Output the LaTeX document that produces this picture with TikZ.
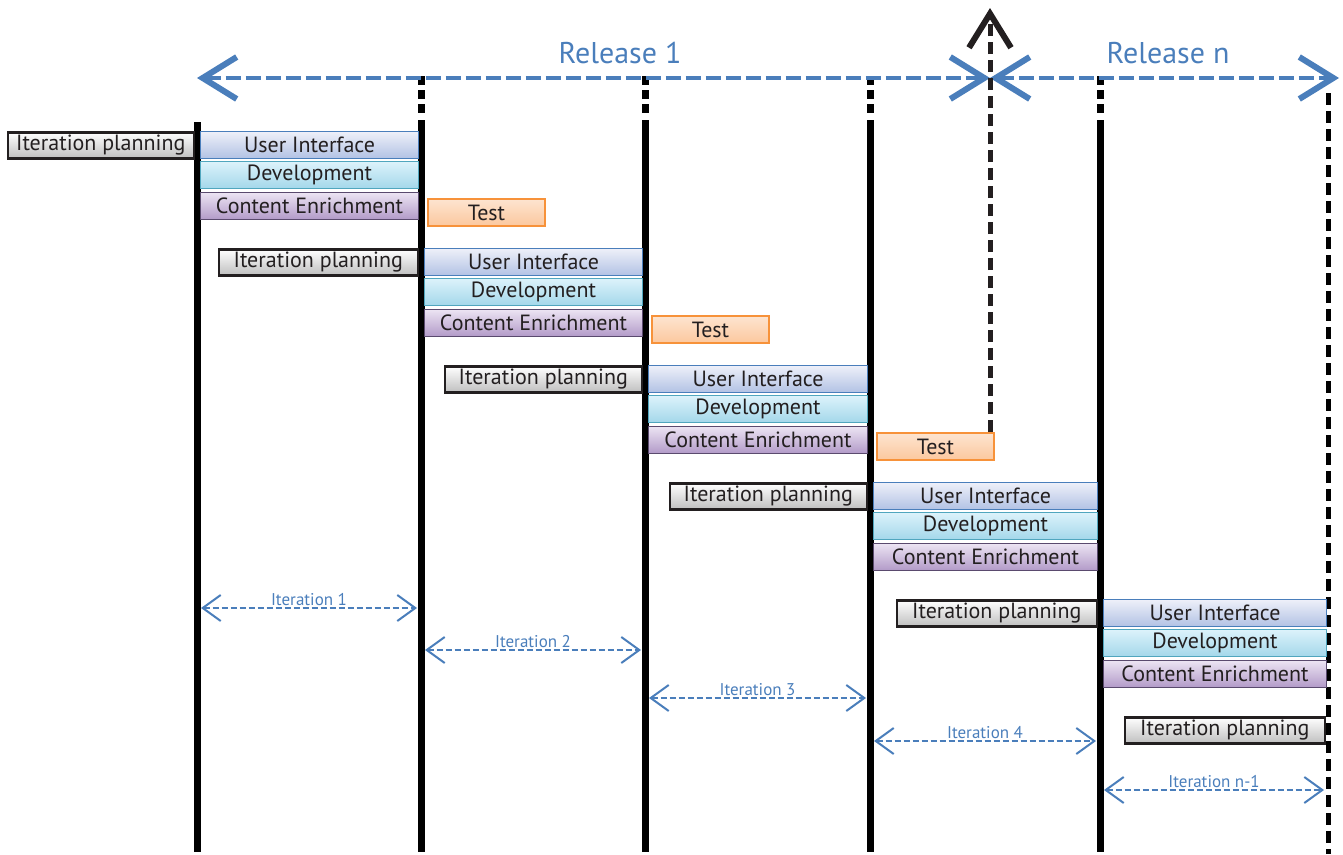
\documentclass[tikz,border=0pt]{standalone}
\usepackage{fontspec}
\setmainfont{PT Sans}
\usetikzlibrary{arrows.meta, positioning}

\definecolor{relblue}{RGB}{74,126,187}
\definecolor{inkblack}{RGB}{35,31,32}
\definecolor{testorange}{RGB}{247,146,58}

\tikzset{
  phase/.style={minimum height=27pt, inner sep=0pt, text=inkblack,
    font=\fontsize{22}{22}\selectfont},
  plan/.style={phase, draw=inkblack, line width=2.5pt, minimum height=26pt,
    top color=white, bottom color=black!25},
  ui/.style={phase, draw=relblue, line width=1pt,
    top color={rgb,255:red,238;green,240;blue,249}, bottom color={rgb,255:red,178;green,194;blue,228}},
  dev/.style={phase, draw={rgb,255:red,80;green,166;blue,190}, line width=1pt,
    top color={rgb,255:red,220;green,243;blue,251}, bottom color={rgb,255:red,164;green,215;blue,234}},
  enrich/.style={phase, draw={rgb,255:red,90;green,74;blue,110}, line width=1pt,
    top color={rgb,255:red,236;green,228;blue,243}, bottom color={rgb,255:red,178;green,154;blue,200}},
  testbox/.style={phase, draw=testorange, line width=2pt, minimum width=117pt,
    top color={rgb,255:red,253;green,228;blue,208}, bottom color={rgb,255:red,252;green,200;blue,158}},
  bound/.style={line width=7pt, black},
  release/.style={relblue, line width=4.5pt, dash pattern=on 15pt off 5pt,
    {Straight Barb[length=34pt, width=42pt, line width=6pt]}-{Straight Barb[length=34pt, width=42pt, line width=6pt]}},
  iter/.style={relblue, line width=1.5pt, dash pattern=on 6pt off 3pt,
    shorten <=4pt, shorten >=4pt,
    {Straight Barb[length=18pt, width=26pt, line width=2pt]}-{Straight Barb[length=18pt, width=26pt, line width=2pt]}},
  itlabel/.style={relblue, font=\fontsize{17}{17}\selectfont, inner sep=2pt},
  rellabel/.style={relblue, font=\fontsize{30}{30}\selectfont}
}

\begin{document}
\begin{tikzpicture}[x=1pt, y=-1pt]
  \useasboundingbox (0,0) rectangle (1343,854);

  % iteration boundaries
  \foreach \x [count=\i from 0] in {197,421,645,870,1100,1328}
    \coordinate (b\i) at (\x,0);
  \coordinate (rel) at (990,0);

  \draw[bound] (b0 |- 0,122) -- (b0 |- 0,852);
  \foreach \i in {1,...,4} {
    \draw[bound] (b\i |- 0,120) -- (b\i |- 0,852);
    \draw[bound, dash pattern=on 9pt off 5pt] (b\i |- 0,76) -- (b\i |- 0,116);
  }
  \draw[bound, line width=5pt, dash pattern=on 12pt off 6pt] (b5 |- 0,93) -- (b5 |- 0,854);

  % iterations
  \foreach \i/\xl/\xr/\y/\pw in {1/200/418/131/186, 2/424/642/248/199,
      3/648/867/365/197, 4/873/1097/482/197, 5/1103/1326/599/200} {
    \node[plan, anchor=north east, minimum width=\pw pt] (plan\i)
      at (\xl-5,\y) {Iteration planning};
    \node[ui, anchor=north west, minimum width={(\xr-\xl)*1pt}] (ui\i)
      at (\xl,\y) {User Interface};
    \node[dev, below=2pt of ui\i, minimum width={(\xr-\xl)*1pt}] (dev\i)
      {Development};
    \node[enrich, below=3pt of dev\i, minimum width={(\xr-\xl)*1pt}] (enrich\i)
      {Content Enrichment};
    \ifnum\i<4
      \node[testbox, anchor=north west] (test\i) at (\xr+9,\y+67) {Test};
    \fi
  }
  \node[plan, anchor=north east, minimum width=200pt] (plan6) at (1326,716)
    {Iteration planning};

  % releases
  \draw[release] (b0 |- 0,78) -- (rel |- 0,78);
  \draw[release] (rel |- 0,78) -- (1339,78);
  \node[rellabel] (rel1) at (620,53) {Release 1};
  \node[rellabel] (reln) at (1168,53) {Release n};
  \draw[inkblack, line width=5pt, dash pattern=on 12pt off 6pt,
    -{Straight Barb[length=34pt, width=42pt, line width=6pt]}]
    (test3.north -| rel) -- (rel |- 0,8);

  % iteration spans
  \draw[iter] (b0 |- 0,608) -- node[itlabel, above] {Iteration 1} (b1 |- 0,608);
  \draw[iter] (b1 |- 0,650) -- node[itlabel, above] {Iteration 2} (b2 |- 0,650);
  \draw[iter] (b2 |- 0,698) -- node[itlabel, above] {Iteration 3} (b3 |- 0,698);
  \draw[iter] (b3 |- 0,741) -- node[itlabel, above] {Iteration 4} (b4 |- 0,741);
  \draw[iter] (b4 |- 0,790) -- node[itlabel, above] {Iteration n-1} (b5 |- 0,790);
\end{tikzpicture}
\end{document}
